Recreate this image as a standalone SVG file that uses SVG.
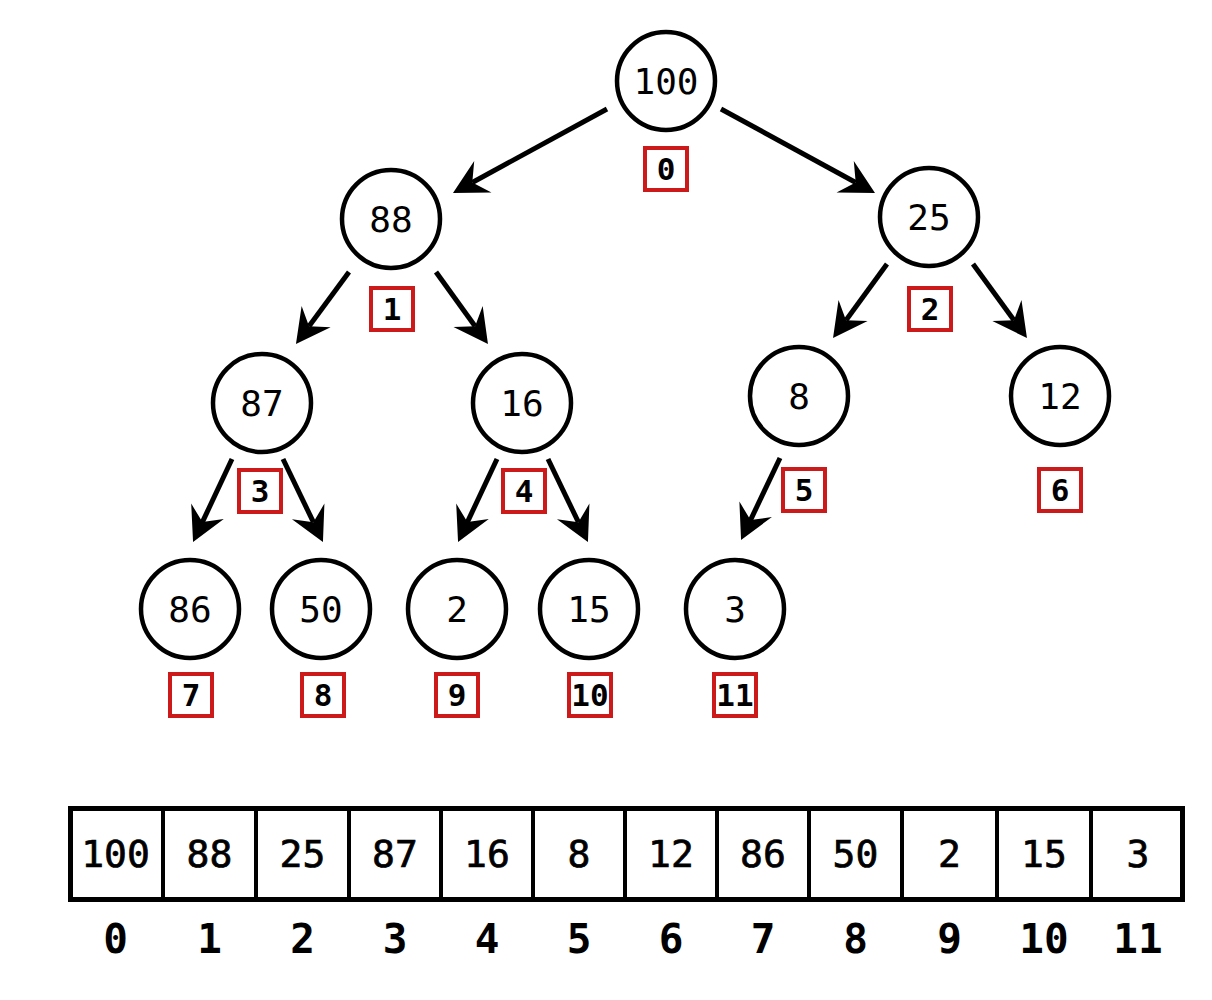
<svg xmlns="http://www.w3.org/2000/svg" width="1212" height="1000" viewBox="0 0 1212 1000">
<style>
.node circle{fill:#fff;stroke:#000;stroke-width:4.5}
.node text{font-family:"DejaVu Sans Mono",monospace;font-size:36px;text-anchor:middle;fill:#000}
.idx rect{fill:#fff;stroke:#cc1a1a;stroke-width:4}
.idx text{font-family:"DejaVu Sans Mono",monospace;font-size:31px;font-weight:bold;text-anchor:middle;fill:#000}
.edges line{stroke:#000;stroke-width:5;marker-end:url(#ah)}
.arr text{font-family:"DejaVu Sans Mono",monospace;font-size:38px;text-anchor:middle;fill:#000;stroke:#000;stroke-width:0.7}
.arrlab text{font-family:"DejaVu Sans Mono",monospace;font-size:41px;font-weight:bold;text-anchor:middle;fill:#000}
</style>
<defs>
<marker id="ah" markerUnits="userSpaceOnUse" orient="auto" refX="0" refY="0" viewBox="-14 -20 40 40" markerWidth="40" markerHeight="40" overflow="visible">
<path d="M22,0 L-12,-18 L0,0 L-12,18 Z" fill="#000"/>
</marker>
</defs>
<rect width="1212" height="1000" fill="#fff"/>
<g id="edges" class="edges">
<line x1="607" y1="109" x2="472.3" y2="182.5"/>
<line x1="721" y1="109" x2="855.7" y2="182.5"/>
<line x1="349" y1="272" x2="309" y2="326.3"/>
<line x1="436" y1="272" x2="475.1" y2="326.2"/>
<line x1="887" y1="264" x2="846" y2="320.2"/>
<line x1="973" y1="264" x2="1014" y2="320.2"/>
<line x1="232" y1="459" x2="202.4" y2="522.1"/>
<line x1="283" y1="459" x2="313.4" y2="522.2"/>
<line x1="497" y1="459" x2="467.4" y2="522.1"/>
<line x1="548" y1="459" x2="578.4" y2="522.2"/>
<line x1="780" y1="458" x2="750.5" y2="520.1"/>
</g>
<g id="n0" class="node"><circle cx="666" cy="81" r="49"/><text x="666" y="94">100</text></g>
<g id="n1" class="node"><circle cx="391" cy="219" r="49"/><text x="391" y="232">88</text></g>
<g id="n2" class="node"><circle cx="929" cy="217" r="49"/><text x="929" y="230">25</text></g>
<g id="n3" class="node"><circle cx="262" cy="403" r="49"/><text x="262" y="416">87</text></g>
<g id="n4" class="node"><circle cx="522" cy="403" r="49"/><text x="522" y="416">16</text></g>
<g id="n5" class="node"><circle cx="799" cy="396" r="49"/><text x="799" y="409">8</text></g>
<g id="n6" class="node"><circle cx="1060" cy="396" r="49"/><text x="1060" y="409">12</text></g>
<g id="n7" class="node"><circle cx="190" cy="609" r="49"/><text x="190" y="622">86</text></g>
<g id="n8" class="node"><circle cx="321" cy="609" r="49"/><text x="321" y="622">50</text></g>
<g id="n9" class="node"><circle cx="457" cy="609" r="49"/><text x="457" y="622">2</text></g>
<g id="n10" class="node"><circle cx="589" cy="609" r="49"/><text x="589" y="622">15</text></g>
<g id="n11" class="node"><circle cx="735" cy="609" r="49"/><text x="735" y="622">3</text></g>
<g id="i0" class="idx"><rect x="645" y="148" width="42" height="42"/><text x="666" y="180">0</text></g>
<g id="i1" class="idx"><rect x="371" y="288" width="42" height="42"/><text x="392" y="320">1</text></g>
<g id="i2" class="idx"><rect x="909" y="288" width="42" height="42"/><text x="930" y="320">2</text></g>
<g id="i3" class="idx"><rect x="239" y="470" width="42" height="42"/><text x="260" y="502">3</text></g>
<g id="i4" class="idx"><rect x="503" y="470" width="42" height="42"/><text x="524" y="502">4</text></g>
<g id="i5" class="idx"><rect x="783" y="469" width="42" height="42"/><text x="804" y="501">5</text></g>
<g id="i6" class="idx"><rect x="1039" y="469" width="42" height="42"/><text x="1060" y="501">6</text></g>
<g id="i7" class="idx"><rect x="170" y="674" width="42" height="42"/><text x="191" y="706">7</text></g>
<g id="i8" class="idx"><rect x="302" y="674" width="42" height="42"/><text x="323" y="706">8</text></g>
<g id="i9" class="idx"><rect x="436" y="674" width="42" height="42"/><text x="457" y="706">9</text></g>
<g id="i10" class="idx"><rect x="569" y="674" width="42" height="42"/><text x="590" y="706">10</text></g>
<g id="i11" class="idx"><rect x="714" y="674" width="42" height="42"/><text x="735" y="706">11</text></g>
<g id="array" class="arr">
<rect x="70.5" y="808.5" width="1112" height="91" fill="#fff" stroke="#000" stroke-width="5"/>
<g stroke="#000" stroke-width="4">
<line x1="163" y1="808" x2="163" y2="900"/>
<line x1="256" y1="808" x2="256" y2="900"/>
<line x1="349" y1="808" x2="349" y2="900"/>
<line x1="441" y1="808" x2="441" y2="900"/>
<line x1="533" y1="808" x2="533" y2="900"/>
<line x1="625" y1="808" x2="625" y2="900"/>
<line x1="717" y1="808" x2="717" y2="900"/>
<line x1="809" y1="808" x2="809" y2="900"/>
<line x1="902" y1="808" x2="902" y2="900"/>
<line x1="997" y1="808" x2="997" y2="900"/>
<line x1="1091" y1="808" x2="1091" y2="900"/>
</g>
<text x="115.5" y="867">100</text>
<text x="209.5" y="867">88</text>
<text x="302.5" y="867">25</text>
<text x="395" y="867">87</text>
<text x="487" y="867">16</text>
<text x="579" y="867">8</text>
<text x="671" y="867">12</text>
<text x="763" y="867">86</text>
<text x="855.5" y="867">50</text>
<text x="949.5" y="867">2</text>
<text x="1044" y="867">15</text>
<text x="1138" y="867">3</text>
</g>
<g id="array-index" class="arrlab">
<text x="115.5" y="953">0</text>
<text x="209.5" y="953">1</text>
<text x="302.5" y="953">2</text>
<text x="395" y="953">3</text>
<text x="487" y="953">4</text>
<text x="579" y="953">5</text>
<text x="671" y="953">6</text>
<text x="763" y="953">7</text>
<text x="855.5" y="953">8</text>
<text x="949.5" y="953">9</text>
<text x="1044" y="953">10</text>
<text x="1138" y="953">11</text>
</g>
</svg>
